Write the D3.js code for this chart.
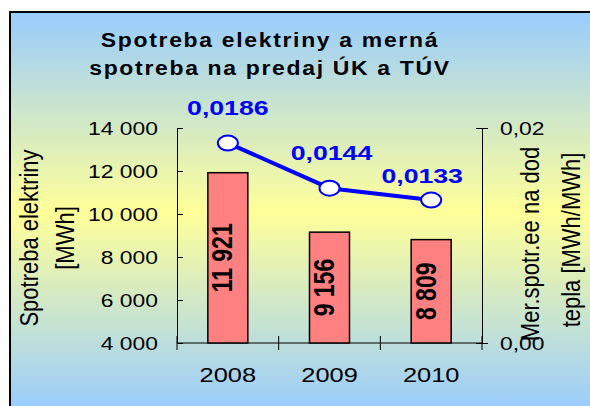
<!DOCTYPE html>
<html>
<head>
<meta charset="utf-8">
<script src="https://cdn.jsdelivr.net/npm/d3@7"></script>
<style>
  body { margin: 0; background: #fff; }
  text { font-family: "Liberation Sans", Arial, sans-serif; }
</style>
</head>
<body>
<div id="chart"></div>
<script>
const years = ["2008", "2009", "2010"];
const consumption = [11921, 9156, 8809];
const specific = [0.0186, 0.0144, 0.0133];
const leftTicks = [4000, 6000, 8000, 10000, 12000, 14000];
const rightTicks = [0, 0.02];
const titleLines = ["Spotreba elektriny a merná", "spotreba na predaj ÚK a TÚV"];
const leftTitle = ["Spotreba elektriny", "[MWh]"];
const rightTitle = ["Mer.spotr.ee na dod", "tepla [MWh/MWh]"];
const labelShift = [[0, -28], [2, -28], [-9, -17]];

const W = 590, H = 406;
const stretch = 1.27;

const svg = d3.select("#chart").append("svg").attr("width", W).attr("height", H);

const grad = svg.append("defs").append("linearGradient")
    .attr("id", "bg").attr("x1", 0).attr("y1", 0).attr("x2", 0).attr("y2", 1);
grad.append("stop").attr("offset", "0%").attr("stop-color", "#99ccff");
grad.append("stop").attr("offset", "50%").attr("stop-color", "#ffff99");
grad.append("stop").attr("offset", "100%").attr("stop-color", "#99ccff");

svg.append("rect")
    .attr("x", 10).attr("y", 12).attr("width", 600).attr("height", 400)
    .attr("fill", "url(#bg)").attr("stroke", "#000").attr("stroke-width", 2);

// title
titleLines.forEach((t, i) => {
    svg.append("text")
        .attr("transform", `translate(270,${47 + i * 28}) scale(1.12,1)`)
        .attr("text-anchor", "middle")
        .attr("font-size", 20.5).attr("font-weight", "bold")
        .attr("letter-spacing", 1.5)
        .text(t);
});

const x = d3.scaleBand().domain(years).range([177, 482]).padding(0);
const yL = d3.scaleLinear().domain([4000, 14000]).range([343, 128]);
const yR = d3.scaleLinear().domain([0, 0.02]).range([343, 128]);
const fmtL = v => d3.format(",")(v).replace(/,/g, " ");
const fmtR = v => d3.format(".2f")(v).replace(".", ",");

// left axis
const gl = svg.append("g").attr("transform", "translate(177,0)")
    .call(d3.axisLeft(yL).tickValues(leftTicks).tickSizeOuter(0).tickSizeInner(6).tickPadding(13).tickFormat(fmtL));
gl.selectAll(".tick line").attr("x2", 6);
gl.selectAll(".tick text")
    .attr("font-size", 18).attr("font-family", "Liberation Sans, Arial, sans-serif")
    .attr("transform", `scale(${stretch},1)`)
    .attr("x", -19 / stretch).attr("dy", "0.36em");

// right axis
const gr = svg.append("g").attr("transform", "translate(482,0)")
    .call(d3.axisRight(yR).tickValues(rightTicks).tickSizeOuter(0).tickSizeInner(6).tickPadding(12).tickFormat(fmtR));
gr.selectAll(".tick line").attr("x1", -6);
gr.selectAll(".tick text")
    .attr("font-size", 18).attr("font-family", "Liberation Sans, Arial, sans-serif")
    .attr("transform", `scale(${stretch},1)`)
    .attr("x", 18 / stretch).attr("dy", "0.36em");

// x axis
const gx = svg.append("g").attr("transform", "translate(0,343)");
gx.append("line").attr("x1", 177).attr("x2", 482).attr("stroke", "#000");
const bounds = years.map(d => x(d)).concat([x.range()[1]]);
gx.selectAll(".xt").data(bounds).enter().append("line")
    .attr("x1", d => d).attr("x2", d => d).attr("y1", -7).attr("y2", 7).attr("stroke", "#000");
gx.selectAll(".xl").data(years).enter().append("text")
    .attr("transform", d => `translate(${x(d) + x.bandwidth() / 2},39) scale(${stretch},1)`)
    .attr("text-anchor", "middle").attr("font-size", 20)
    .text(d => d);
[gl, gr].forEach(g => g.selectAll("path.domain").attr("stroke", "#000"));
[gl, gr].forEach(g => g.selectAll(".tick line").attr("stroke", "#000"));

// bars
const bw = 40;
const data = years.map((y, i) => ({ year: y, v: consumption[i], s: specific[i] }));
svg.selectAll(".bar").data(data).enter().append("rect")
    .attr("x", d => x(d.year) + x.bandwidth() / 2 - bw / 2)
    .attr("y", d => yL(d.v))
    .attr("width", bw)
    .attr("height", d => yL(4000) - yL(d.v))
    .attr("fill", "#ff8080").attr("stroke", "#000").attr("stroke-width", 1.5);

svg.selectAll(".blabel").data(data).enter().append("text")
    .attr("transform", d => `translate(${x(d.year) + x.bandwidth() / 2 + 4.5},${(yL(d.v) + yL(4000)) / 2}) rotate(-90) scale(1,${stretch})`)
    .attr("text-anchor", "middle").attr("font-size", 23).attr("font-weight", "bold")
    .text(d => fmtL(d.v));

// line
const cx = d => x(d.year) + x.bandwidth() / 2;
svg.append("path").datum(data)
    .attr("d", d3.line().x(cx).y(d => yR(d.s)))
    .attr("fill", "none").attr("stroke", "#0000ff").attr("stroke-width", 4);
svg.selectAll(".pt").data(data).enter().append("ellipse")
    .attr("cx", cx).attr("cy", d => yR(d.s)).attr("rx", 10).attr("ry", 7.5)
    .attr("fill", "#fff").attr("stroke", "#0000ff").attr("stroke-width", 2);
svg.selectAll(".plabel").data(data).enter().append("text")
    .attr("transform", (d, i) => `translate(${cx(d) + labelShift[i][0]},${yR(d.s) + labelShift[i][1]}) scale(${stretch},1)`)
    .attr("text-anchor", "middle").attr("font-size", 21).attr("font-weight", "bold")
    .attr("fill", "#0000ff")
    .text(d => d3.format(".4f")(d.s).replace(".", ","));

// axis titles
leftTitle.forEach((t, i) => {
    svg.append("text")
        .attr("transform", `translate(${38 + i * 36},238) rotate(-90) scale(1,1.15)`)
        .attr("text-anchor", "middle").attr("font-size", 22)
        .text(t);
});
rightTitle.forEach((t, i) => {
    svg.append("text")
        .attr("transform", `translate(${539 + i * 41},${244 - i * 4}) rotate(-90) scale(1,1.15)`)
        .attr("text-anchor", "middle").attr("font-size", 22)
        .text(t);
});
</script>
</body>
</html>
